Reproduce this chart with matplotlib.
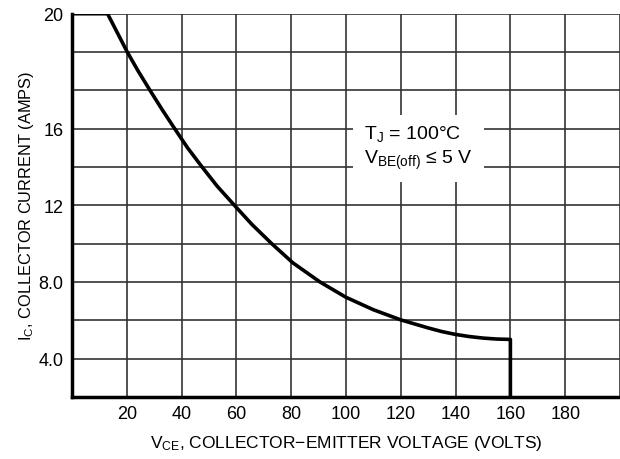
import matplotlib
matplotlib.use('Agg')
import matplotlib.pyplot as plt
import numpy as np

# values (y in grid units, one grid step = 2 A)
vce = [0, 13.0, 20.2, 24.2, 28.5, 32.9, 37.5, 42.2, 47.5, 53.0, 59.3, 65.7,
       72.9, 80.6, 90.5, 100, 110, 120, 130, 135, 140, 145, 150, 155, 160, 160]
ic = [22, 22, 20, 19, 18, 17, 16, 15, 14, 13, 12, 11,
      10, 9, 8, 7.2, 6.55, 6.02, 5.6, 5.41, 5.26, 5.15, 5.07, 5.02, 5.0, 2.0]

xtick_vals = [20, 40, 60, 80, 100, 120, 140, 160, 180]
ytick_vals = [4, 8, 12, 16, 22]
ytick_text = ['4.0', '8.0', '12', '16', '20']

plt.rcParams['font.family'] = ['Liberation Sans', 'DejaVu Sans']
plt.rcParams['mathtext.fontset'] = 'custom'
plt.rcParams['mathtext.rm'] = 'Liberation Sans'
plt.rcParams['mathtext.it'] = 'Liberation Sans'
plt.rcParams['mathtext.default'] = 'rm'

fig = plt.figure(figsize=(6.2, 4.6), dpi=100)
ax = fig.add_axes([0.116, 0.135, 0.884, 0.833])

ax.plot(vce, ic, color='black', lw=2.6, solid_joinstyle='round', zorder=3)

ax.set_xlim(0, 200)
ax.set_ylim(2, 22)
grid_x = np.arange(0, 201, 20)
grid_y = np.arange(2, 23, 2)
ax.set_xticks(grid_x)
ax.set_yticks(grid_y)
ax.set_xticklabels([str(t) if t in xtick_vals else '' for t in grid_x])
ax.set_yticklabels([ytick_text[ytick_vals.index(t)] if t in ytick_vals else '' for t in grid_y])
ax.grid(True, color='#333333', lw=1.2)
ax.set_axisbelow(True)
ax.tick_params(length=0, labelsize=13, pad=6)

for s in ['top', 'right']:
    ax.spines[s].set_visible(False)
for s in ['left', 'bottom']:
    ax.spines[s].set_linewidth(2.5)

ax.set_xlabel('V$_{\\mathregular{CE}}$, COLLECTOR\u2212EMITTER VOLTAGE (VOLTS)', fontsize=12.5, labelpad=8)
ax.set_ylabel('I$_{\\mathregular{C}}$, COLLECTOR CURRENT (AMPS)', fontsize=11.8, labelpad=2)

ax.text(106.5, 15.05, 'T$_{\\mathregular{J}}$ = 100°C\nV$_{\\mathregular{BE(off)}}$ \u2264 5 V',
        fontsize=14, va='center', ha='left', linespacing=1.35, zorder=4,
        bbox=dict(facecolor='white', edgecolor='none', pad=8))

fig.savefig('out.png', dpi=100)
